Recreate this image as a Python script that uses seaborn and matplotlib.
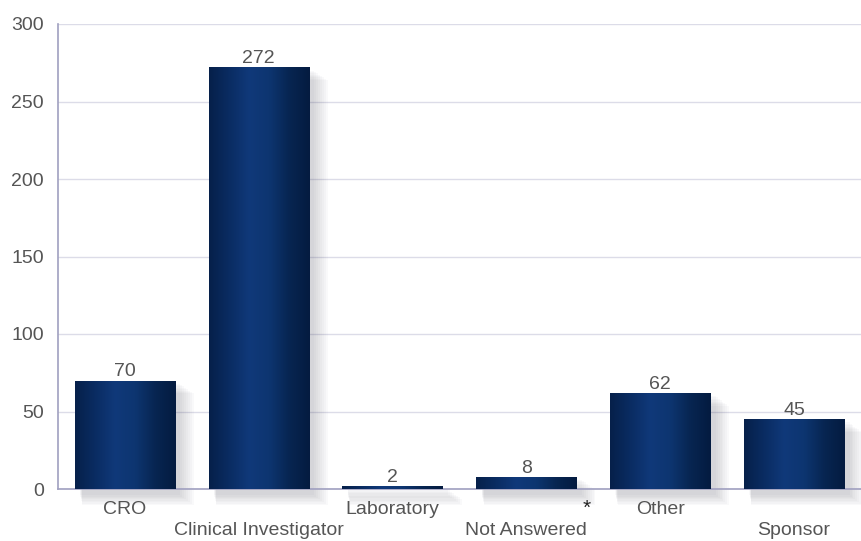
import numpy as np
import pandas as pd
import matplotlib
matplotlib.use("Agg")
import matplotlib.pyplot as plt
from matplotlib.colors import LinearSegmentedColormap
from matplotlib.patches import Rectangle
import seaborn as sns

categories = ["CRO", "Clinical Investigator", "Laboratory", "Not Answered", "Other", "Sponsor"]
counts = [70, 272, 2, 8, 62, 45]
y_ticks = [0, 50, 100, 150, 200, 250, 300]

sns.set_theme(style="white")
plt.rcParams["font.family"] = ["Liberation Sans", "DejaVu Sans"]

FS = 14
df = pd.DataFrame({"role": categories, "count": counts})

fig = plt.figure(figsize=(8.61, 5.41), dpi=100)
ax = fig.add_axes([58 / 861, 1 - 489 / 541, (861 - 58) / 861, 465 / 541])

sns.barplot(data=df, x="role", y="count", color="#0b2f66", width=0.75,
            saturation=1, ax=ax, zorder=3)

ax.set_ylim(0, 300)
ax.set_xlim(-0.5, 5.5)
ax.set_yticks(y_ticks)
ax.set_xlabel("")
ax.set_ylabel("")

# grid and spines
ax.yaxis.grid(True, color="#dcdce8", linewidth=1.0, zorder=0)
ax.set_axisbelow(True)
for side in ["top", "right"]:
    ax.spines[side].set_visible(False)
ax.spines["left"].set_color("#a0a0c0")
ax.spines["bottom"].set_color("#a0a0c0")
ax.spines["left"].set_linewidth(1.2)
ax.spines["bottom"].set_linewidth(1.2)

ax.tick_params(axis="y", length=0, pad=10, labelsize=FS, labelcolor="#555555")
ax.tick_params(axis="x", length=0, labelsize=FS, labelcolor="#555555")

# staggered category labels
for i, tick in enumerate(ax.xaxis.get_major_ticks()):
    tick.set_pad(9 if i % 2 == 0 else 24)

# horizontal gradient fill + soft shadow for each bar
grad = LinearSegmentedColormap.from_list(
    "bar", ["#06204a", "#0a2c62", "#10397a", "#0d3570", "#072551", "#041b40"])
gradient = np.linspace(0, 1, 256).reshape(1, -1)
for patch in list(ax.patches):
    x0, y0 = patch.get_x(), patch.get_y()
    w, h = patch.get_width(), patch.get_height()
    # shadow
    for k in range(8):
        grow = 0.012 * k
        ax.add_patch(Rectangle((x0 + 0.04 + grow * 0.2, y0 - 4 - k * 0.9),
                               w + grow, h + 2, facecolor="#404050",
                               alpha=0.028, edgecolor="none", zorder=2,
                               clip_on=False))
    patch.set_facecolor("none")
    patch.set_edgecolor("none")
    im = ax.imshow(gradient, cmap=grad, aspect="auto",
                   extent=(x0, x0 + w, y0, y0 + h), zorder=3,
                   interpolation="bicubic")
    im.set_clip_path(Rectangle((x0, y0), w, h, transform=ax.transData))

ax.set_xlim(-0.5, 5.5)
ax.set_ylim(0, 300)

# value labels
for i, v in enumerate(counts):
    ax.annotate(str(v), (i, v), xytext=(0, 0), textcoords="offset points",
                ha="center", va="bottom", fontsize=FS, color="#555555", zorder=5)

# footnote marker next to the unanswered bar
ax.annotate("*", (3.45, 0), xytext=(0, -7), textcoords="offset points",
            ha="center", va="top", fontsize=15, color="#222222",
            annotation_clip=False)

fig.savefig("out.png", dpi=100)
